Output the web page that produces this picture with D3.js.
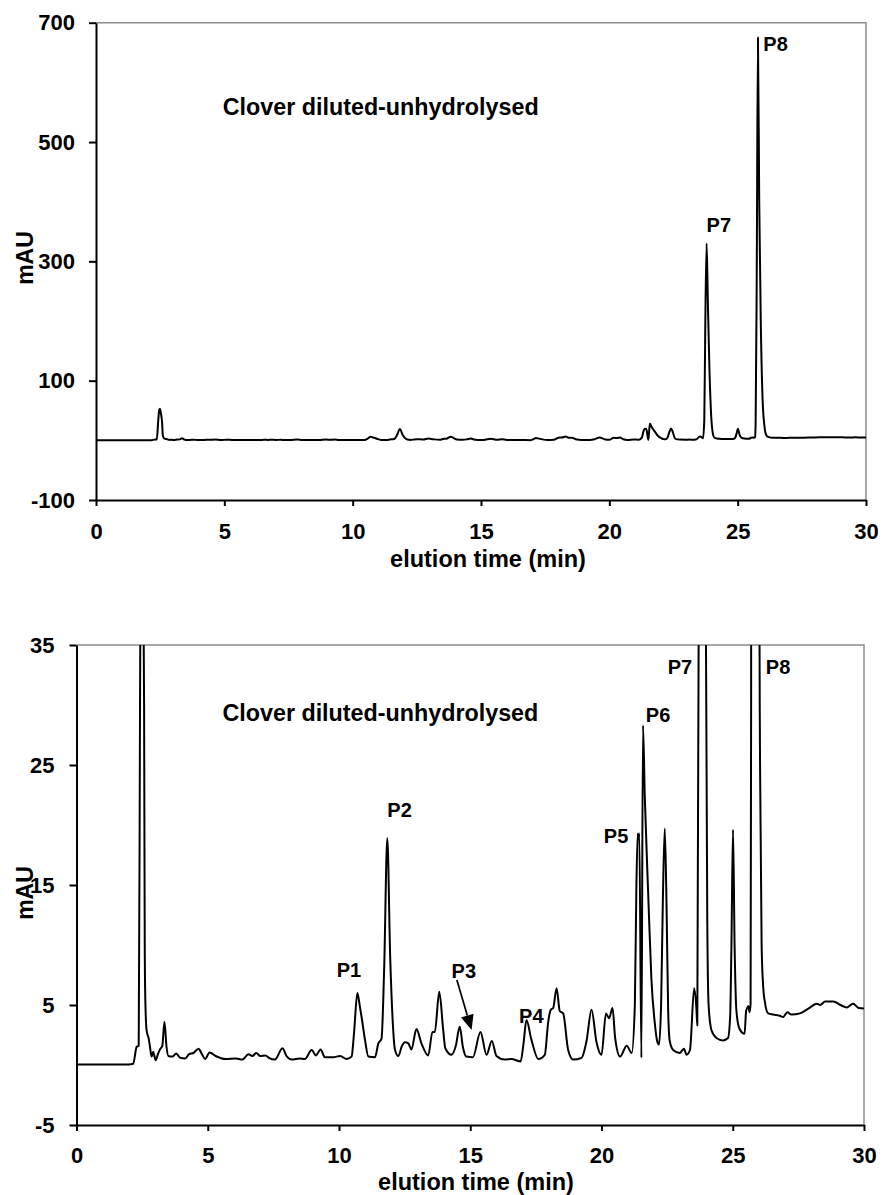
<!DOCTYPE html>
<html><head><meta charset="utf-8">
<script src="https://cdn.jsdelivr.net/npm/d3@7"></script>
<style>
body{margin:0;background:#fff;}
svg text{font-family:"Liberation Sans",Arial,sans-serif;font-weight:bold;fill:#000;}
</style></head>
<body><svg id="c" width="882" height="1195"></svg>
<script>
// elution time (min)
const time = [0.0,1.0,2.0,2.16,2.29,2.37,2.42,2.46,2.49,2.53,2.575,2.60,2.62,2.67,2.76,2.80,2.86,2.92,2.96,3.02,3.10,3.18,3.27,3.35,3.43,3.50,3.65,3.80,3.95,4.14,4.29,4.45,4.65,4.78,4.90,5.07,5.30,5.68,6.07,6.32,6.55,6.70,6.85,7.00,7.20,7.33,7.56,7.85,8.00,8.20,8.50,8.70,8.96,9.12,9.30,9.46,9.78,10.04,10.29,10.48,10.57,10.70,10.80,10.86,10.99,11.12,11.37,11.50,11.62,11.72,11.84,11.95,12.05,12.13,12.26,12.40,12.51,12.64,12.76,12.95,13.14,13.40,13.56,13.65,13.82,13.97,14.05,14.29,14.45,14.60,14.72,14.85,15.10,15.39,15.62,15.82,16.00,16.32,16.57,16.92,17.03,17.14,17.33,17.59,17.84,17.97,18.07,18.16,18.29,18.41,18.54,18.73,18.92,19.24,19.43,19.62,19.81,20.00,20.17,20.29,20.42,20.52,20.71,20.96,21.15,21.27,21.33,21.38,21.41,21.44,21.52,21.58,21.65,21.78,21.90,22.03,22.12,22.19,22.27,22.34,22.41,22.48,22.54,22.60,22.73,22.98,23.14,23.24,23.37,23.53,23.62,23.65,23.70,23.74,23.79,23.84,23.90,23.97,24.03,24.08,24.19,24.38,24.63,24.82,24.90,24.95,25.01,25.07,25.14,25.26,25.45,25.51,25.60,25.64,25.68,25.70,25.74,25.79,25.84,25.90,25.97,26.04,26.10,26.16,26.22,26.35,26.54,26.79,26.92,27.08,27.24,27.56,27.88,28.20,28.33,28.52,28.84,29.10,29.35,29.58,29.80,30.00];
// absorbance (mAU)
const mAU = [0.05,0.05,0.05,0.1,1.5,1.6,30,50,53,45,30,10,5.6,2.9,2.1,1.5,0.7,1.1,0.8,0.4,0.9,1.3,1.6,3.6,1.5,0.75,0.7,0.95,0.6,0.55,0.9,1.0,1.35,0.9,0.5,1.05,0.75,0.5,0.55,0.45,0.9,0.75,1.0,0.75,0.8,0.6,0.45,1.4,0.75,0.45,0.55,0.5,1.25,0.8,1.3,0.65,0.65,0.75,0.5,0.7,2.6,6.0,4.8,4.0,2.1,0.7,0.65,1.8,2.2,8,18.9,9,3.5,1.3,0.75,1.6,1.9,1.8,1.3,3.0,1.8,0.8,2.75,2.75,6.1,2.9,1.4,0.85,1.6,3.2,1.5,0.7,0.65,2.75,0.85,2.0,0.75,0.45,0.5,0.3,1.8,3.75,2.1,0.5,0.85,3.6,4.6,4.75,6.4,4.5,4.3,1.25,0.45,0.6,2.0,4.6,1.9,0.85,4.3,3.9,4.75,2.25,0.7,1.6,1.0,5,15,19.3,18.8,19.3,0.6,28.3,22.3,14.2,7.2,3.5,2.0,1.7,5,14,19.7,13,4.5,2.0,1.25,1.0,1.35,0.85,1.25,6.4,4.5,3.3,35,200,330,230,120,40,12,5,2.9,2.25,2.05,2.25,4,10,19.6,10,4.5,3.0,2.6,4.5,4.9,4.4,5.1,30,250,675,400,200,70,25,10,6.5,5.3,4.3,4.2,4.1,4.0,4.4,4.2,4.3,4.7,5.1,5.0,5.3,5.3,5.0,4.8,5.1,4.75,4.7];

const xTicks = [0,5,10,15,20,25,30];
const yTicksTop = [-100,100,300,500,700];
const yTicksBottom = [-5,5,15,25,35];
const titleText = "Clover diluted-unhydrolysed";
const xLabel = "elution time (min)";
const yLabel = "mAU";

// peak labels: [text, time, mAU] (anchor position in data units)
const labelsTop = [["P7",23.79,349],["P8",26.0,652]];
const labelsBottom = [["P1",9.91,7.33],["P2",11.84,20.64],["P3",14.29,7.25],["P4",16.86,3.53],["P5",20.09,18.5],["P6",21.69,28.6],["P7",22.52,32.6],["P8",26.26,32.6]];
const arrowP3 = [[14.49,7.08],[15.05,2.92]];

const data = time.map((t,i)=>({t, v:mAU[i]}));
const svg = d3.select("#c");
const fmt = d => String(d); // plain hyphen-minus like the reference

function panel(cfg){
  const g = svg.append("g");
  const x = d3.scaleLinear().domain([0,30]).range([cfg.left,cfg.right]);
  const y = d3.scaleLinear().domain(cfg.yDomain).range([cfg.bottom,cfg.top]);
  const id = "clip"+cfg.name;
  svg.append("clipPath").attr("id",id).append("rect")
    .attr("x",cfg.left).attr("y",cfg.top).attr("width",cfg.right-cfg.left).attr("height",cfg.bottom-cfg.top);
  g.append("path").attr("d",`M${cfg.left},${cfg.top}H${cfg.right}V${cfg.bottom}`)
    .attr("fill","none").attr("stroke","#8c8c8c").attr("stroke-width",1.5);
  g.append("path").datum(data).attr("clip-path",`url(#${id})`)
    .attr("fill","none").attr("stroke","#000").attr("stroke-width",2).attr("stroke-linejoin","round")
    .attr("d",d3.line().x(d=>x(d.t)).y(d=>y(d.v)).curve(d3.curveMonotoneX));
  const ax = g.append("g").attr("transform",`translate(0,${cfg.bottom})`)
    .call(d3.axisBottom(x).tickValues(xTicks).tickFormat(fmt).tickSize(6).tickSizeOuter(0).tickPadding(cfg.xPad));
  const ay = g.append("g").attr("transform",`translate(${cfg.left},0)`)
    .call(d3.axisLeft(y).tickValues(cfg.yTicks).tickFormat(fmt).tickSize(7).tickSizeOuter(0).tickPadding(cfg.yPad));
  [ax,ay].forEach(a=>{
    a.select(".domain").attr("stroke","#000").attr("stroke-width",2);
    a.selectAll(".tick line").attr("stroke","#000").attr("stroke-width",2);
    a.selectAll("text").attr("font-size",22).attr("font-family",null);
  });
  g.append("text").attr("x",cfg.xLabelX).attr("y",cfg.xLabelY).attr("text-anchor","middle")
    .attr("font-size",23.5).text(xLabel);
  g.append("text").attr("transform",`translate(33,${cfg.yLabelY}) rotate(-90)`).attr("text-anchor","middle")
    .attr("font-size",23).text(yLabel);
  g.append("text").attr("x",x(cfg.title[0])).attr("y",y(cfg.title[1])).attr("font-size",23.3).text(titleText);
  cfg.labels.forEach(l=>{
    g.append("text").attr("x",x(l[1])).attr("y",y(l[2])).attr("font-size",20).text(l[0]);
  });
  return {g,x,y};
}

panel({name:"top",left:96,right:866,top:22.7,bottom:500,yDomain:[-100,700],yTicks:yTicksTop,
  xPad:17,yPad:14,xLabelX:488,xLabelY:567,yLabelY:258,title:[4.94,546],labels:labelsTop});
const pb = panel({name:"bot",left:76.5,right:864,top:645,bottom:1125,yDomain:[-5,35],yTicks:yTicksBottom,
  xPad:16,yPad:15,xLabelX:476,xLabelY:1190,yLabelY:893,title:[5.56,28.67],labels:labelsBottom});

const [a0,a1] = arrowP3.map(p=>[pb.x(p[0]),pb.y(p[1])]);
const dx=a1[0]-a0[0], dy=a1[1]-a0[1], L=Math.hypot(dx,dy), ux=dx/L, uy=dy/L;
const hl=15, hw=6.5;
const bx=a1[0]-ux*hl, by=a1[1]-uy*hl;
pb.g.append("line").attr("x1",a0[0]).attr("y1",a0[1]).attr("x2",bx).attr("y2",by)
  .attr("stroke","#000").attr("stroke-width",1.7);
pb.g.append("path").attr("d",`M${a1[0]},${a1[1]}L${bx-uy*hw},${by+ux*hw}L${bx+uy*hw},${by-ux*hw}Z`).attr("fill","#000");
</script></body></html>
